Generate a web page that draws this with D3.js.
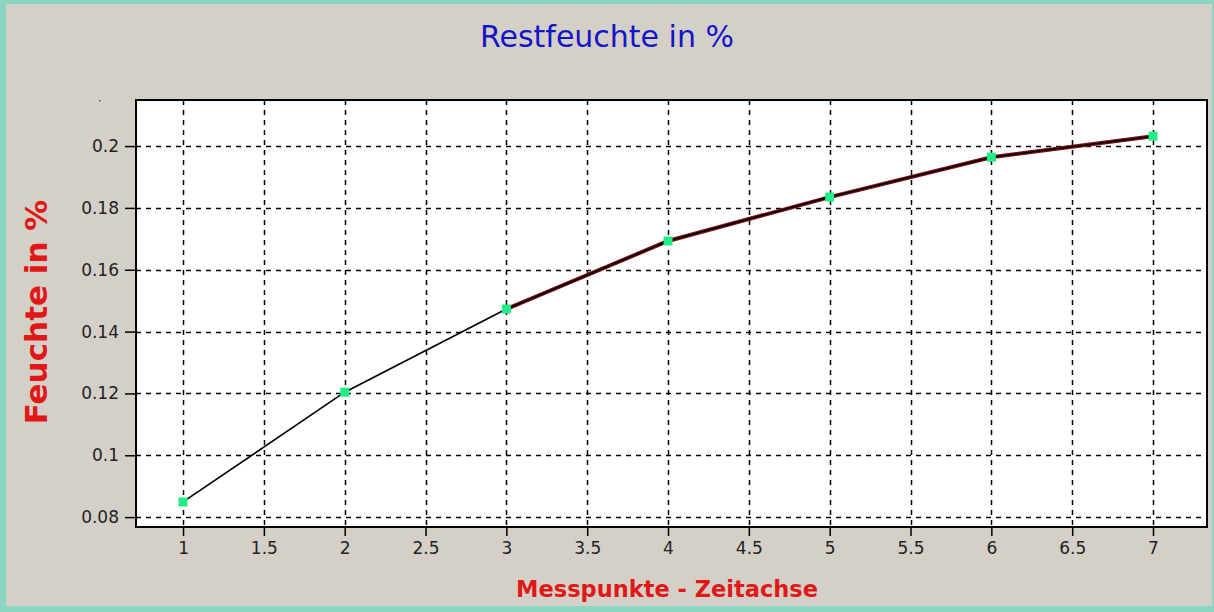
<!DOCTYPE html>
<html>
<head>
<meta charset="utf-8">
<script src="https://cdn.jsdelivr.net/npm/d3@7"></script>
<style>
  html, body { margin: 0; padding: 0; background: #d4d0c8; }
  #vis { width: 1214px; height: 612px; }
  text { font-family: "DejaVu Sans", Verdana, sans-serif; }
</style>
</head>
<body>
<div id="vis"></div>
<script>
// Messpunkte (x) and Restfeuchte (y)
var messpunkte = [1, 2, 3, 4, 5, 6, 7];
var feuchte = [0.0849, 0.1204, 0.1473, 0.1693, 0.1835, 0.1964, 0.2032];
var xTicks = [1, 1.5, 2, 2.5, 3, 3.5, 4, 4.5, 5, 5.5, 6, 6.5, 7];
var yTicks = [0.08, 0.1, 0.12, 0.14, 0.16, 0.18, 0.2];

var svgWidth = 1214, svgHeight = 612;
var plot = { left: 136, top: 100, right: 1207, bottom: 527 };

var svg = d3.select("#vis").append("svg")
  .attr("width", svgWidth)
  .attr("height", svgHeight);

// frame background and teal border
svg.append("rect").attr("width", svgWidth).attr("height", svgHeight).attr("fill", "#8dd5c3");
svg.append("rect")
  .attr("x", 6).attr("y", 4)
  .attr("width", svgWidth - 8).attr("height", svgHeight - 10)
  .attr("fill", "#d4d0c8");

var x = d3.scaleLinear().domain([0.709, 7.334]).range([plot.left, plot.right]);
var y = d3.scaleLinear().domain([0.0768, 0.2149]).range([plot.bottom, plot.top]);

svg.append("rect")
  .attr("x", plot.left).attr("y", plot.top)
  .attr("width", plot.right - plot.left).attr("height", plot.bottom - plot.top)
  .attr("fill", "white");

// grid
var grid = svg.append("g").attr("stroke", "#000").attr("stroke-width", 1.5)
  .attr("stroke-dasharray", "5,5");
grid.selectAll(".vg").data(xTicks).enter().append("line")
  .attr("x1", d => Math.round(x(d)) + 0.5).attr("x2", d => Math.round(x(d)) + 0.5)
  .attr("y1", plot.top).attr("y2", plot.bottom);
grid.selectAll(".hg").data(yTicks).enter().append("line")
  .attr("y1", d => Math.round(y(d)) + 0.5).attr("y2", d => Math.round(y(d)) + 0.5)
  .attr("x1", plot.left).attr("x2", plot.right);

// axes
var xAxis = svg.append("g")
  .attr("transform", "translate(0," + plot.bottom + ")")
  .call(d3.axisBottom(x).tickValues(xTicks).tickSize(9).tickPadding(6).tickSizeOuter(0)
    .tickFormat(d3.format("")));
var yAxis = svg.append("g")
  .attr("transform", "translate(" + plot.left + ",0)")
  .call(d3.axisLeft(y).tickValues(yTicks).tickSize(11).tickPadding(6).tickSizeOuter(0)
    .tickFormat(d3.format("")));
[xAxis, yAxis].forEach(function (a) {
  a.select(".domain").remove();
  a.selectAll("line").attr("stroke", "#000").attr("stroke-width", 1.5);
  a.selectAll("text").attr("fill", "#222").style("font-size", "17px")
    .style("font-family", "'DejaVu Sans', Verdana, sans-serif");
});

// plot frame
svg.append("rect")
  .attr("x", plot.left).attr("y", plot.top)
  .attr("width", plot.right - plot.left).attr("height", plot.bottom - plot.top)
  .attr("fill", "none").attr("stroke", "#000").attr("stroke-width", 2);

// series line
var line = d3.line().x((d, i) => x(messpunkte[i])).y(d => y(d));
var tail = feuchte.slice(2);
svg.append("path")
  .attr("d", d3.line().x((d, i) => x(messpunkte[i + 2])).y(d => y(d))(tail))
  .attr("fill", "none").attr("stroke", "#7a1010").attr("stroke-width", 4);
svg.append("path")
  .attr("d", line(feuchte))
  .attr("fill", "none").attr("stroke", "#000").attr("stroke-width", 1.6);

// markers
svg.selectAll(".pt").data(feuchte).enter().append("rect")
  .attr("x", (d, i) => x(messpunkte[i]) - 4.5)
  .attr("y", d => y(d) - 4.5)
  .attr("width", 9).attr("height", 9)
  .attr("fill", "#22ee88");

// small stray dot
svg.append("rect").attr("x", 99).attr("y", 100).attr("width", 1.5).attr("height", 1.5).attr("fill", "#555");

// titles
svg.append("text")
  .attr("x", 607).attr("y", 47)
  .attr("text-anchor", "middle")
  .attr("fill", "#1414c8")
  .style("font-size", "30px")
  .text("Restfeuchte in %");

svg.append("text")
  .attr("x", 667).attr("y", 597)
  .attr("text-anchor", "middle")
  .attr("fill", "#e01818")
  .style("font-size", "22.5px").style("font-weight", "bold")
  .text("Messpunkte - Zeitachse");

svg.append("text")
  .attr("transform", "translate(47,312) rotate(-90)")
  .attr("text-anchor", "middle")
  .attr("fill", "#e01818")
  .style("font-size", "31px").style("font-weight", "bold")
  .text("Feuchte in %");
</script>
</body>
</html>
